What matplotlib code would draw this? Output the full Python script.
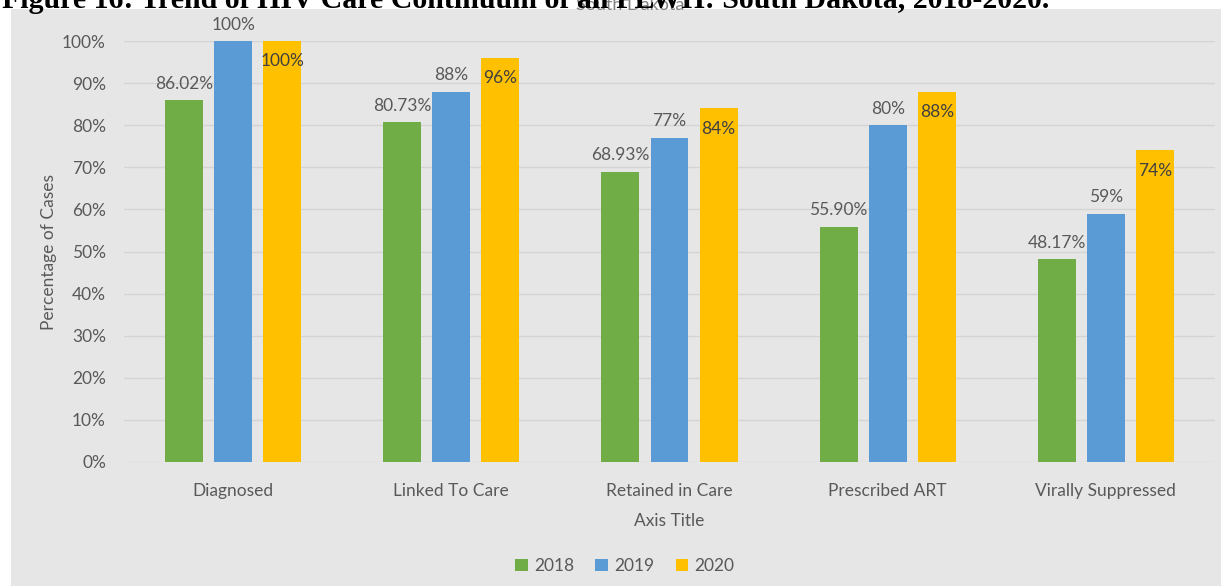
import numpy as np
import matplotlib.pyplot as plt
from matplotlib.patches import Rectangle

categories = ['Diagnosed', 'Linked To Care', 'Retained in Care', 'Prescribed ART', 'Virally Suppressed']
years = ['2018', '2019', '2020']
v2018 = [86.02, 80.73, 68.93, 55.90, 48.17]
v2019 = [100, 88, 77, 80, 59]
v2020 = [100, 96, 84, 88, 74]
labels2018 = ['86.02%', '80.73%', '68.93%', '55.90%', '48.17%']
labels2019 = ['100%', '88%', '77%', '80%', '59%']
labels2020 = ['100%', '96%', '84%', '88%', '74%']

colors = ['#70AD47', '#5B9BD5', '#FFC000']
txt = '#595959'
plt.rcParams['font.family'] = ['Lato', 'DejaVu Sans']

W, H = 1221, 586
fig = plt.figure(figsize=(W / 100, H / 100), dpi=100)
fig.patch.set_facecolor('white')
# grey chart area
fig.patches.append(Rectangle((11 / W, 0), 1 - 11 / W, (H - 9) / H, transform=fig.transFigure,
                             facecolor='#E6E6E6', edgecolor='none', zorder=-10))

ax = fig.add_axes([124 / W, 1 - 462 / H, (1215 - 124) / W, (462 - 41) / H])
ax.set_facecolor('none')
x = np.arange(len(categories))
bw = 0.174
step = 0.225

for i, (vals, labs) in enumerate(zip([v2018, v2019, v2020], [labels2018, labels2019, labels2020])):
    bars = ax.bar(x + (i - 1) * step, vals, bw, color=colors[i], label=years[i], zorder=3)
    for b, v, lab in zip(bars, vals, labs):
        cx = b.get_x() + b.get_width() / 2
        if i < 2:
            ax.annotate(lab, (cx, v), xytext=(0, 6), textcoords='offset points',
                        ha='center', va='bottom', fontsize=12.5, color=txt, clip_on=False)
        else:
            ax.annotate(lab, (cx, v), xytext=(0, -9), textcoords='offset points',
                        ha='center', va='top', fontsize=12.5, color='#404040', clip_on=False)

ax.set_xlim(-0.5, 4.5)
ax.set_ylim(0, 100)
ax.set_yticks(np.arange(0, 101, 10))
ax.set_yticklabels([f'{t}%' for t in range(0, 101, 10)], fontsize=12.5, color=txt)
ax.set_xticks(x)
ax.set_xticklabels(categories, fontsize=12.5, color=txt)
ax.tick_params(length=0, pad=13)
ax.tick_params(axis='x', pad=15)
ax.grid(axis='y', color='#D4D4D4', lw=1, zorder=0)
for s in ax.spines.values():
    s.set_visible(False)

ax.set_xlabel('Axis Title', fontsize=12.5, color=txt, labelpad=10)
ax.set_ylabel('Percentage of Cases', fontsize=12.5, color=txt, labelpad=4)

leg = fig.legend(loc='center', bbox_to_anchor=(625 / W, 1 - 566 / H), ncol=3, frameon=False,
                 fontsize=12.5, handlelength=0.7, handleheight=0.7, columnspacing=1.2, handletextpad=0.4)
for t in leg.get_texts():
    t.set_color(txt)

fig.text(630 / W, 1 - 5 / H, 'South Dakota', ha='center', va='center', fontsize=13, color='#808080')
fig.text(2 / W, 1 - 1 / H, 'Figure 16: Trend of HIV Care Continuum of all PLWH: South Dakota, 2018-2020.',
         ha='left', va='center', fontsize=21.5, fontweight='bold', family='Liberation Serif', color='black')

fig.savefig('out.png', dpi=100)
